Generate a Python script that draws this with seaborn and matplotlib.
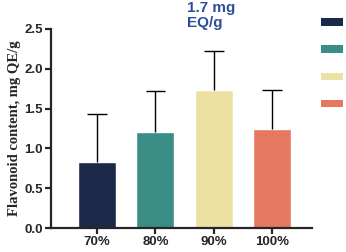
import matplotlib
matplotlib.use("Agg")
import matplotlib.pyplot as plt
import seaborn as sns
import pandas as pd
import numpy as np
from matplotlib.patches import Patch

categories = ["70%", "80%", "90%", "100%"]
values = [0.83, 1.21, 1.73, 1.24]
errors = [0.60, 0.51, 0.49, 0.50]
colors = ["#1b2949", "#3a8d84", "#ece0a2", "#e67862"]
y_ticks = [0.0, 0.5, 1.0, 1.5, 2.0, 2.5]

df = pd.DataFrame({"conc": categories, "val": values})

sns.set_style("ticks")
plt.rcParams["font.family"] = ["Liberation Sans", "DejaVu Sans"]

fig = plt.figure(figsize=(3.46, 2.52), dpi=100)
ax = fig.add_axes([0.147, 0.095, 0.755, 0.79])

sns.barplot(data=df, x="conc", y="val", hue="conc", palette=colors,
            saturation=1, width=0.65, legend=False, ax=ax, zorder=2,
            errorbar=None)
x = np.arange(len(categories))
tops = np.array(values) + np.array(errors)
ax.vlines(x, values, tops, color="black", linewidth=1.0, zorder=3)
ax.hlines(tops, x - 0.17, x + 0.17, color="black", linewidth=1.0, zorder=3)

ax.set_ylim(0, 2.5)
ax.set_xlim(-0.79, 3.68)
ax.set_yticks(y_ticks)
ax.set_yticklabels([f"{t:.1f}" for t in y_ticks], fontweight="bold", fontsize=9.5)
ax.set_xticks(x)
ax.set_xticklabels(categories, fontweight="bold", fontsize=9.5)
ax.set_xlabel("")
ax.set_ylabel("Flavonoid content, mg QE/g", family="Liberation Serif",
              fontweight="bold", fontsize=10.5, labelpad=2)
for s in ["left", "bottom"]:
    ax.spines[s].set_linewidth(1.6)
sns.despine(ax=ax)
ax.tick_params(axis="both", width=1.6, length=4, pad=2)

ax.text(1.54, 2.85, "1.7 mg\nEQ/g", color="#2e4e9c", fontweight="bold",
        fontsize=11, ha="left", va="top", linespacing=1.05)

handles = [Patch(facecolor=c, edgecolor="none") for c in colors]
fig.legend(handles, [""] * 4, loc="upper right", bbox_to_anchor=(1.015, 0.96),
           frameon=False, fontsize=8, handlelength=2.0, handleheight=0.65,
           labelspacing=1.55, handletextpad=0.0, borderpad=0.2)

fig.savefig("out.png", dpi=100)
